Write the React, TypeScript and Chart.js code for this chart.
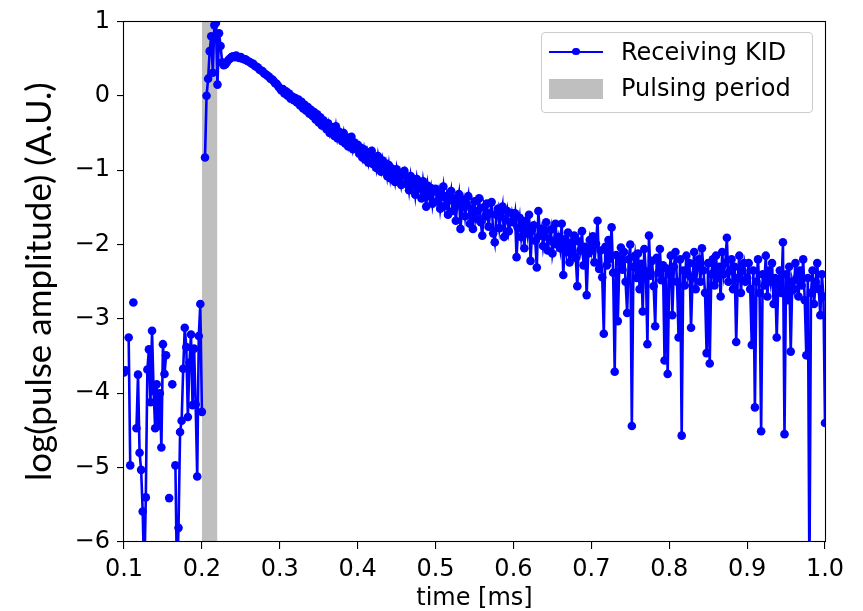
import { useEffect, useRef } from "react";
import { Chart, registerables } from "chart.js";

Chart.register(...registerables);

// ---- axes ----
const X_MIN = 0.1;
const X_MAX = 1.0;
const Y_MIN = -6;
const Y_MAX = 1;
const X_TICKS = [0.1, 0.2, 0.3, 0.4, 0.5, 0.6, 0.7, 0.8, 0.9, 1.0];
const Y_TICKS = [-6, -5, -4, -3, -2, -1, 0, 1];

// ---- sampling grid of the receiving KID trace (ms) ----
const T0 = 0.1;
const DT = 0.002;

// ---- pulsing period (ms) ----
const PULSE_START = 0.2;
const PULSE_END = 0.22;

// ---- log(pulse amplitude) samples, null = no value (log of non-positive) ----
const PRE_PULSE = [
  -3.72, -3.69, null, -3.25, -4.97, null, -2.78, null, -4.47, -3.75,
  -4.8, -5.03, -5.59, -6.5, -5.4, -3.68, -3.41, -4.12, -3.16, -3.97,
  -4.47, -3.88, -4.44, -4.0, -4.73, -3.34, -3.74, -3.49, null, -5.41,
  null, -3.88, null, -4.97, -6.5, -5.81, -4.52, -4.37, -3.67, -3.12,
  -3.38, -4.32, -3.59, -3.21, -4.16, -3.4, -4.15, -5.12, -3.23, -2.8,
  -4.25, null,
];
const PULSE = [
  -0.83, 0.0, 0.23, 0.6, 0.8, 0.31, 0.95, 0.98, 0.15, 0.84,
  0.67, 0.45, 0.41, 0.42, 0.45, 0.48, 0.5, 0.52,
];
const DECAY_A = [
  0.53, 0.52, 0.54, 0.52, 0.51, 0.52, 0.5, 0.49, 0.49, 0.47,
  0.46, 0.45, 0.43, 0.43, 0.4, 0.39, 0.38, 0.35, 0.34, 0.33,
  0.3, 0.29, 0.27, 0.26, 0.23, 0.22, 0.2, 0.17, 0.16, 0.13,
];
const DECAY_B = [
  0.1, 0.07, 0.09, 0.03, 0.06, 0.0, 0.03, -0.04, -0.01, -0.06,
  -0.03, -0.09, -0.05, -0.13, -0.08, -0.17, -0.12, -0.2, -0.15, -0.24,
  -0.19, -0.27, -0.22, -0.32, -0.25, -0.36, -0.29, -0.4, -0.33, -0.38,
  -0.45, -0.37, -0.5, -0.42, -0.47, -0.54, -0.41, -0.57, -0.48, -0.53,
  -0.61, -0.5, -0.64, -0.56, -0.68, -0.59, -0.55, -0.72, -0.63, -0.7,
];
const DECAY_C = [
  -0.66, -0.78, -0.7, -0.83, -0.72, -0.86, -0.76, -0.9, -0.79, -0.74,
  -0.92, -0.83, -0.97, -0.81, -0.95, -1.02, -0.87, -1.0, -0.91, -1.08,
  -0.93, -1.11, -0.98, -1.04, -1.16, -0.99, -1.13, -1.05, -1.2, -1.07,
  -1.01, -1.18, -1.1, -1.27, -1.08, -1.22, -1.14, -1.33, -1.12, -1.25,
  -1.18, -1.38, -1.15, -1.3, -1.49, -1.21, -1.35, -1.24, -1.45, -1.28,
];
const DECAY_D = [
  -1.25, -1.42, -1.3, -1.52, -1.36, -1.22, -1.48, -1.35, -1.6, -1.4,
  -1.28, -1.55, -1.38, -1.68, -1.44, -1.32, -1.79, -1.5, -1.4, -1.62,
  -1.46, -1.35, -1.72, -1.52, -1.79, -1.42, -1.65, -1.55, -1.38, -1.7,
  -1.88, -1.5, -1.62, -1.45, -1.76, -1.58, -1.43, -1.85, -1.97, -1.6,
  -1.52, -1.78, -1.62, -1.49, -1.9, -1.66, -1.55, -1.82, -1.7, -1.58,
];
const DECAY_E = [
  -1.7, -1.58, -2.17, -1.78, -1.64, -1.9, -1.73, -2.05, -1.68, -1.85,
  -1.6, -2.22, -1.8, -1.74, -1.95, -2.31, -1.55, -1.88, -1.79, -2.02,
  -1.86, -1.7, -2.08, -1.93, -1.8, -2.12, -1.98, -1.72, -2.0, -1.9,
  -2.05, -1.72, -2.41, -1.93, -2.1, -1.84, -2.24, -1.98, -2.13, -1.88,
  -2.18, -2.56, -1.96, -2.08, -1.82, -2.28, -2.03, -2.68, -2.12, -1.94,
];
const DECAY_F = [
  -2.08, -1.89, -2.24, -1.99, -1.68, -2.33, -2.08, -2.44, -3.2, -2.03,
  -2.28, -1.94, -2.19, -1.77, -2.38, -3.71, -2.14, -3.03, -2.24, -2.04,
  -2.34, -2.1, -2.5, -2.92, -2.2, -2.0, -4.44, -2.3, -2.15, -2.45,
  -2.12, -2.6, -2.26, -2.9, -2.06, -2.36, -3.34, -1.88, -2.42, -2.22,
  -2.56, -3.1, -2.18, -2.38, -2.06, -2.48, -2.28, -3.56, -2.32, -3.74,
];
const DECAY_G = [
  -2.4, -2.15, -2.95, -2.3, -2.1, -2.5, -3.25, -2.2, -4.57, -2.35,
  -2.55, -2.15, -2.4, -2.25, -3.12, -2.45, -2.1, -2.6, -2.3, -2.2,
  -2.5, -2.05, -2.35, -2.65, -3.46, -2.25, -3.6, -2.4, -2.2, -2.55,
  -2.15, -2.45, -2.3, -2.7, -2.1, -2.4, -2.25, -1.91, -2.5, -2.35,
  -2.2, -2.6, -2.3, -3.31, -2.45, -2.15, -2.65, -2.35, -2.25, -2.5,
];
const DECAY_H = [
  -2.45, -2.25, -2.6, -3.35, -2.35, -4.19, -2.5, -2.2, -2.65, -4.51,
  -2.4, -2.55, -2.15, -2.7, -2.35, -2.5, -2.25, -2.8, -2.45, -3.25,
  -2.55, -2.35, -2.65, -1.97, -4.55, -2.4, -2.75, -2.3, -3.44, -2.5,
  -2.6, -2.25, -2.45, -2.7, -2.35, -2.55, -2.2, -2.75, -3.49, -2.45,
  -6.5, -2.65, -2.35, -2.8, -2.5, -2.25, -2.6, -2.95, -2.4, -2.7,
  -4.4,
];

const KID_LOG_AMP: (number | null)[] = [
  ...PRE_PULSE, ...PULSE, ...DECAY_A, ...DECAY_B, ...DECAY_C,
  ...DECAY_D, ...DECAY_E, ...DECAY_F, ...DECAY_G, ...DECAY_H,
];

const W = 863;
const H = 611;
const AREA = { left: 124, right: 825, top: 17, bottom: 542 };

const framePlugin = {
  id: "frame",
  afterDatasetsDraw(chart: any) {
    const { ctx, chartArea } = chart;
    ctx.save();
    ctx.strokeStyle = "#000";
    ctx.lineWidth = 1.1;
    ctx.strokeRect(
      Math.round(chartArea.left) - 0.5,
      Math.round(chartArea.top) + 0.5,
      Math.round(chartArea.right - chartArea.left) + 1,
      Math.round(chartArea.bottom - chartArea.top) - 1
    );
    ctx.restore();
  },
};

export default function App() {
  const ref = useRef<HTMLCanvasElement>(null);

  useEffect(() => {
    document.body.style.margin = "0";
    const canvas = ref.current;
    if (!canvas) return;
    const kidPoints = KID_LOG_AMP.map((y, i) => ({
      x: Number((T0 + i * DT).toFixed(4)),
      y,
    }));
    const tickFont = { family: "'DejaVu Sans', sans-serif", size: 24 };
    const chart = new Chart(canvas, {
      type: "line",
      data: {
        datasets: [
          {
            label: "Receiving KID",
            data: kidPoints as any,
            borderColor: "#0000ff",
            backgroundColor: "#0000ff",
            borderWidth: 2.6,
            pointRadius: 4.3,
            pointHoverRadius: 4.3,
            pointBorderWidth: 0,
            pointBackgroundColor: "#0000ff",
            spanGaps: false,
            tension: 0,
            fill: false,
            clip: 0,
          } as any,
          {
            label: "Pulsing period",
            data: [
              { x: PULSE_START, y: Y_MAX },
              { x: PULSE_END, y: Y_MAX },
            ],
            borderWidth: 0,
            borderColor: "rgba(0,0,0,0)",
            backgroundColor: "#bfbfbf",
            pointRadius: 0,
            fill: "start",
            clip: 0,
          } as any,
        ],
      },
      options: {
        responsive: false,
        animation: false,
        events: [],
        layout: {
          padding: { left: 0, top: AREA.top, right: W - AREA.right, bottom: 0 },
        },
        plugins: {
          legend: { display: false },
          tooltip: { enabled: false },
        },
        scales: {
          x: {
            type: "linear",
            min: X_MIN,
            max: X_MAX,
            afterBuildTicks: (scale: any) => {
              scale.ticks = X_TICKS.map((v) => ({ value: v }));
            },
            afterFit: (scale: any) => {
              scale.height = H - AREA.bottom;
            },
            ticks: {
              font: tickFont,
              color: "#000",
              padding: 6,
              maxRotation: 0,
              autoSkip: false,
              callback: (v: any) => Number(v).toFixed(1),
            },
            grid: {
              display: true,
              drawOnChartArea: false,
              drawTicks: true,
              tickLength: 7,
              color: "#000",
              lineWidth: 1.1,
            },
            border: { display: false },
            title: {
              display: true,
              text: "time [ms]",
              font: tickFont,
              color: "#000",
              padding: { top: 0, bottom: -2 },
            },
          },
          y: {
            type: "linear",
            min: Y_MIN,
            max: Y_MAX,
            afterBuildTicks: (scale: any) => {
              scale.ticks = Y_TICKS.map((v) => ({ value: v }));
            },
            afterFit: (scale: any) => {
              scale.width = AREA.left;
            },
            ticks: {
              font: tickFont,
              color: "#000",
              padding: 7,
              autoSkip: false,
              callback: (v: any) => String(v).replace("-", "\u2212"),
            },
            grid: {
              display: true,
              drawOnChartArea: false,
              drawTicks: true,
              tickLength: 7,
              color: "#000",
              lineWidth: 1.1,
            },
            border: { display: false },
            title: {
              display: true,
              text: "log(pulse amplitude) (A.U.)",
              font: { family: "Lato, 'Open Sans', sans-serif", size: 35 },
              color: "#000",
              padding: { top: 19, bottom: 0 },
            },
          },
        },
      } as any,
      plugins: [framePlugin],
    });
    return () => chart.destroy();
  }, []);

  const legendText: React.CSSProperties = {
    position: "absolute",
    left: 79,
    fontFamily: "'DejaVu Sans', sans-serif",
    fontSize: 24,
    lineHeight: "28px",
    color: "#000",
    whiteSpace: "nowrap",
  };

  return (
    <div style={{ position: "relative", width: W, height: H }}>
      <canvas ref={ref} width={W} height={H} style={{ display: "block" }} />
      <div
        style={{
          position: "absolute",
          left: 541,
          top: 32,
          width: 272,
          height: 81,
          boxSizing: "border-box",
          border: "1px solid #cccccc",
          borderRadius: 4,
          background: "rgba(255,255,255,0.8)",
        }}
      >
        <div
          style={{
            position: "absolute",
            left: 7,
            top: 17.5,
            width: 54,
            height: 2.3,
            background: "#0000ff",
          }}
        />
        <div
          style={{
            position: "absolute",
            left: 30,
            top: 14.8,
            width: 7.6,
            height: 7.6,
            borderRadius: "50%",
            background: "#0000ff",
          }}
        />
        <div style={{ ...legendText, top: 5.4 }}>Receiving KID</div>
        <div
          style={{
            position: "absolute",
            left: 7,
            top: 46,
            width: 54,
            height: 20,
            background: "#bfbfbf",
          }}
        />
        <div style={{ ...legendText, top: 41.4 }}>Pulsing period</div>
      </div>
    </div>
  );
}
